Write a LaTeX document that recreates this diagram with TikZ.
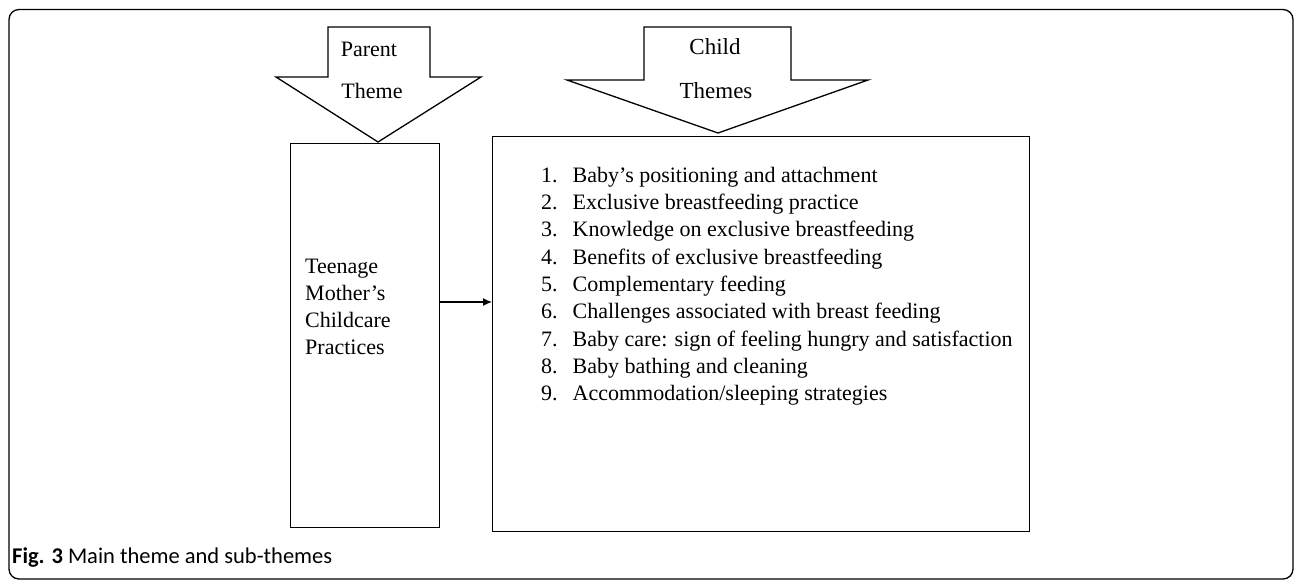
\documentclass[tikz,border=0pt]{standalone}
\usepackage{fontspec}
\setmainfont{Liberation Serif}
\newfontfamily\capfont{Carlito}
\usetikzlibrary{arrows.meta,calc}
\begin{document}
\begin{tikzpicture}[x=1pt,y=-1pt,
  shapeline/.style={line width=1.3pt, line join=miter},
  boxnode/.style={draw, line width=1.3pt, anchor=north west, inner sep=0pt},
  lbl/.style={font=\fontsize{22}{26}\selectfont, inner sep=0pt},
]
\useasboundingbox (0,0) rectangle (1295,581);
\draw[line width=1.3pt, rounded corners=10pt] (9,9.5) rectangle (1293,579);

% parent theme arrow
\draw[shapeline] (328,27) -- (430,27) -- (430,77) -- (481,77) -- (378,142) -- (276,77) -- (328,77) -- cycle;
\node[lbl] (parentA) at (369,49) {Parent};
\node[lbl] (parentB) at (372,91) {Theme};

% child themes arrow
\draw[shapeline] (644,27) -- (791,27) -- (791,80) -- (868,80) -- (718,133) -- (567,80) -- (644,80) -- cycle;
\node[lbl, font=\fontsize{23}{26}\selectfont] (childA) at (715,47) {Child};
\node[lbl, font=\fontsize{23}{26}\selectfont] (childB) at (716,91) {Themes};

% boxes
\node[boxnode, minimum width=149pt, minimum height=384pt] (parent) at (290,143) {};
\node[boxnode, minimum width=537pt, minimum height=395pt] (childbox) at (492,136) {};

\node[lbl, anchor=west, align=left, font=\fontsize{22}{27}\selectfont] (ptext) at (305,307)
  {Teenage\\Mother’s\\Childcare\\Practices};

\node[lbl, anchor=north west, font=\fontsize{22}{27.3}\selectfont] (list) at (541,163) {%
\begin{tabular}{@{}r@{\hspace{15pt}}l@{}}
1.& Baby’s positioning and attachment\\
2.& Exclusive breastfeeding practice\\
3.& Knowledge on exclusive breastfeeding\\
4.& Benefits of exclusive breastfeeding\\
5.& Complementary feeding\\
6.& Challenges associated with breast feeding\\
7.& Baby care: sign of feeling hungry and satisfaction\\
8.& Baby bathing and cleaning\\
9.& Accommodation/sleeping strategies
\end{tabular}};

\path (parent.north east) ++(0,159) coordinate (as);
\draw[line width=1.3pt, -{Latex[length=9pt,width=8pt]}] (as) -- (as -| childbox.west);

\node[anchor=base west, inner sep=0pt, font=\capfont\fontsize{22.5}{26}\selectfont] (cap) at (12,563)
  {\textbf{Fig. 3} Main theme and sub-themes};
\end{tikzpicture}
\end{document}
